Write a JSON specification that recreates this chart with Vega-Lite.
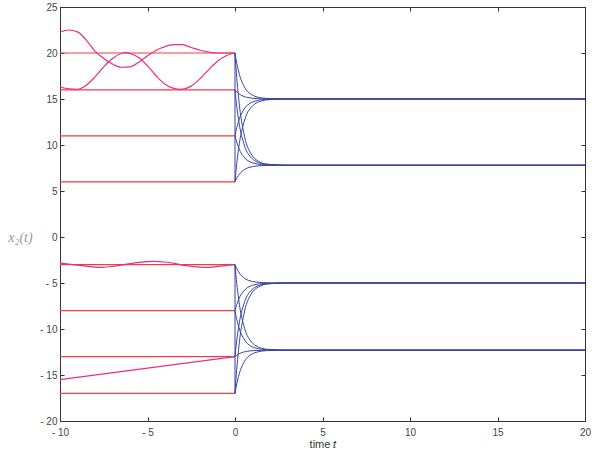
{
  "$schema": "https://vega.github.io/schema/vega-lite/v6.json",
  "width": 525,
  "height": 414,
  "autosize": {"type": "none"},
  "padding": {"left": 60, "top": 7, "right": 16, "bottom": 32},
  "background": "white",
  "config": {
    "view": {"stroke": "#333", "strokeWidth": 1},
    "axis": {
      "grid": false, "domainColor": "#333", "tickColor": "#333", "labelColor": "#444",
      "labelFont": "Liberation Sans", "labelFontSize": 10, "tickSize": -4,
      "labelOverlap": false, "labelFlush": false,
      "titleFont": "Liberation Sans", "titleFontWeight": "normal", "titleColor": "#333"
    }
  },
  "resolve": {"axis": {"x": "independent", "y": "independent"}},
  "layer": [
    {
      "data": {"values": [
        {"t0": -10, "t1": 0, "v": 20}, {"t0": -10, "t1": 0, "v": 16}, {"t0": -10, "t1": 0, "v": 11}, {"t0": -10, "t1": 0, "v": 6},
        {"t0": -10, "t1": 0, "v": -3}, {"t0": -10, "t1": 0, "v": -8}, {"t0": -10, "t1": 0, "v": -13}, {"t0": -10, "t1": 0, "v": -17}
      ]},
      "mark": {"type": "rule", "color": "#f03c46", "strokeWidth": 1.2},
      "encoding": {
        "x": {"field": "t0", "type": "quantitative", "scale": {"domain": [-10, 20], "nice": false},
          "axis": {"orient": "bottom", "values": [-10, -5, 0, 5, 10, 15, 20], "labelExpr": "datum.value < 0 ? '- ' + abs(datum.value) : datum.label", "labelPadding": 10, "title": "time 𝑡", "titleFontSize": 11, "titlePadding": 1}},
        "x2": {"field": "t1"},
        "y": {"field": "v", "type": "quantitative", "scale": {"domain": [-20, 25], "nice": false},
          "axis": {"orient": "left", "values": [-20, -15, -10, -5, 0, 5, 10, 15, 20, 25], "labelExpr": "datum.value < 0 ? '- ' + abs(datum.value) : datum.label", "labelPadding": 7,
            "title": "x₂(t)", "titleAngle": 0, "titleX": -40, "titleY": 230, "titleAlign": "center", "titleBaseline": "middle", "titleFont": "Liberation Serif", "titleFontStyle": "italic", "titleFontSize": 14, "titleColor": "#999"}}
      }
    },
    {
      "data": {"values": [
        {"s": "A", "t": -10, "y": 22.25}, {"s": "A", "t": -9.5, "y": 22.5}, {"s": "A", "t": -9, "y": 22.3}, {"s": "A", "t": -8.5, "y": 21.4}, {"s": "A", "t": -8, "y": 20.2},
        {"s": "A", "t": -7.5, "y": 19.4}, {"s": "A", "t": -7, "y": 18.8}, {"s": "A", "t": -6.5, "y": 18.45}, {"s": "A", "t": -6, "y": 18.5}, {"s": "A", "t": -5.5, "y": 19.0},
        {"s": "A", "t": -5, "y": 19.7}, {"s": "A", "t": -4.5, "y": 20.3}, {"s": "A", "t": -4, "y": 20.7}, {"s": "A", "t": -3.5, "y": 20.9}, {"s": "A", "t": -3, "y": 20.9},
        {"s": "A", "t": -2.5, "y": 20.6}, {"s": "A", "t": -2, "y": 20.3}, {"s": "A", "t": -1.5, "y": 20.1}, {"s": "A", "t": -1, "y": 20.0}, {"s": "A", "t": 0, "y": 20.0},
        {"s": "B", "t": -10, "y": 16.3}, {"s": "B", "t": -9.5, "y": 16.1}, {"s": "B", "t": -9, "y": 16.05}, {"s": "B", "t": -8.5, "y": 16.5}, {"s": "B", "t": -8, "y": 17.4},
        {"s": "B", "t": -7.5, "y": 18.5}, {"s": "B", "t": -7, "y": 19.4}, {"s": "B", "t": -6.5, "y": 19.95}, {"s": "B", "t": -6.25, "y": 20.05}, {"s": "B", "t": -6, "y": 19.95},
        {"s": "B", "t": -5.5, "y": 19.5}, {"s": "B", "t": -5, "y": 18.6}, {"s": "B", "t": -4.5, "y": 17.5}, {"s": "B", "t": -4, "y": 16.6}, {"s": "B", "t": -3.5, "y": 16.15},
        {"s": "B", "t": -3.1, "y": 16.05}, {"s": "B", "t": -2.5, "y": 16.4}, {"s": "B", "t": -2, "y": 17.2}, {"s": "B", "t": -1.5, "y": 18.2}, {"s": "B", "t": -1, "y": 19.1},
        {"s": "B", "t": -0.5, "y": 19.7}, {"s": "B", "t": 0, "y": 20.0},
        {"s": "C", "t": -10, "y": -2.85}, {"s": "C", "t": -9, "y": -3.05}, {"s": "C", "t": -8, "y": -3.28}, {"s": "C", "t": -7.7, "y": -3.3}, {"s": "C", "t": -7, "y": -3.2},
        {"s": "C", "t": -6, "y": -2.9}, {"s": "C", "t": -5, "y": -2.68}, {"s": "C", "t": -4.6, "y": -2.65}, {"s": "C", "t": -4, "y": -2.72}, {"s": "C", "t": -3, "y": -3.05},
        {"s": "C", "t": -2, "y": -3.28}, {"s": "C", "t": -1.6, "y": -3.3}, {"s": "C", "t": -1, "y": -3.2}, {"s": "C", "t": 0, "y": -3.0},
        {"s": "D", "t": -10, "y": -15.5}, {"s": "D", "t": 0, "y": -13.0}
      ]},
      "mark": {"type": "line", "color": "#e8307c", "strokeWidth": 1.2, "interpolate": "monotone"},
      "encoding": {
        "x": {"field": "t", "type": "quantitative", "axis": null},
        "y": {"field": "y", "type": "quantitative", "axis": null},
        "detail": {"field": "s"}
      }
    },
    {
      "data": {"values": [
        {"t": 0, "c1": 20, "c2": 16, "c3": 11, "c4": 6, "c5": 20, "c6": 16, "c7": 11, "c8": 6, "c9": -3, "c10": -8, "c11": -13, "c12": -17, "c13": -3, "c14": -8, "c15": -13, "c16": -17},
        {"t": 0.05, "c1": 19.4, "c2": 15.88, "c3": 11.48, "c4": 7.08, "c5": 18.54, "c6": 15.02, "c7": 10.62, "c8": 6.22, "c9": -3.24, "c10": -7.64, "c11": -12.04, "c12": -15.56, "c13": -4.12, "c14": -8.52, "c15": -12.92, "c16": -16.44},
        {"t": 0.1, "c1": 18.9, "c2": 15.78, "c3": 11.88, "c4": 7.98, "c5": 17.32, "c6": 14.2, "c7": 10.3, "c8": 6.4, "c9": -3.44, "c10": -7.34, "c11": -11.24, "c12": -14.36, "c13": -5.05, "c14": -8.95, "c15": -12.85, "c16": -15.97},
        {"t": 0.2, "c1": 18.05, "c2": 15.61, "c3": 12.56, "c4": 9.51, "c5": 15.24, "c6": 12.8, "c7": 9.75, "c8": 6.7, "c9": -3.78, "c10": -6.83, "c11": -9.88, "c12": -12.32, "c13": -6.63, "c14": -9.68, "c15": -12.73, "c16": -15.17},
        {"t": 0.3, "c1": 17.35, "c2": 15.47, "c3": 13.12, "c4": 10.77, "c5": 13.53, "c6": 11.65, "c7": 9.3, "c8": 6.95, "c9": -4.06, "c10": -6.41, "c11": -8.76, "c12": -10.64, "c13": -7.93, "c14": -10.28, "c15": -12.63, "c16": -14.51},
        {"t": 0.4, "c1": 16.85, "c2": 15.37, "c3": 13.52, "c4": 11.67, "c5": 12.31, "c6": 10.83, "c7": 8.98, "c8": 7.13, "c9": -4.26, "c10": -6.11, "c11": -7.96, "c12": -9.44, "c13": -8.86, "c14": -10.71, "c15": -12.56, "c16": -14.04},
        {"t": 0.5, "c1": 16.45, "c2": 15.29, "c3": 13.84, "c4": 12.39, "c5": 11.34, "c6": 10.18, "c7": 8.73, "c8": 7.28, "c9": -4.42, "c10": -5.87, "c11": -7.32, "c12": -8.48, "c13": -9.6, "c14": -11.05, "c15": -12.5, "c16": -13.66},
        {"t": 0.6, "c1": 16.1, "c2": 15.22, "c3": 14.12, "c4": 13.02, "c5": 10.48, "c6": 9.6, "c7": 8.5, "c8": 7.4, "c9": -4.56, "c10": -5.66, "c11": -6.76, "c12": -7.64, "c13": -10.25, "c14": -11.35, "c15": -12.45, "c16": -13.33},
        {"t": 0.7, "c1": 15.85, "c2": 15.17, "c3": 14.32, "c4": 13.47, "c5": 9.87, "c6": 9.19, "c7": 8.34, "c8": 7.49, "c9": -4.66, "c10": -5.51, "c11": -6.36, "c12": -7.04, "c13": -10.72, "c14": -11.57, "c15": -12.42, "c16": -13.1},
        {"t": 0.8, "c1": 15.68, "c2": 15.14, "c3": 14.46, "c4": 13.79, "c5": 9.45, "c6": 8.91, "c7": 8.23, "c8": 7.56, "c9": -4.73, "c10": -5.41, "c11": -6.08, "c12": -6.62, "c13": -11.04, "c14": -11.72, "c15": -12.39, "c16": -12.93},
        {"t": 1.0, "c1": 15.41, "c2": 15.08, "c3": 14.67, "c4": 14.26, "c5": 8.8, "c6": 8.47, "c7": 8.06, "c8": 7.65, "c9": -4.84, "c10": -5.25, "c11": -5.66, "c12": -5.98, "c13": -11.54, "c14": -11.95, "c15": -12.36, "c16": -12.69},
        {"t": 1.2, "c1": 15.25, "c2": 15.05, "c3": 14.8, "c4": 14.55, "c5": 8.41, "c6": 8.21, "c7": 7.96, "c8": 7.71, "c9": -4.9, "c10": -5.15, "c11": -5.4, "c12": -5.6, "c13": -11.83, "c14": -12.08, "c15": -12.34, "c16": -12.54},
        {"t": 1.5, "c1": 15.12, "c2": 15.02, "c3": 14.91, "c4": 14.79, "c5": 8.08, "c6": 7.99, "c7": 7.87, "c8": 7.76, "c9": -4.95, "c10": -5.07, "c11": -5.18, "c12": -5.28, "c13": -12.09, "c14": -12.2, "c15": -12.32, "c16": -12.41},
        {"t": 2, "c1": 15.04, "c2": 15.01, "c3": 14.97, "c4": 14.94, "c5": 7.89, "c6": 7.86, "c7": 7.82, "c8": 7.79, "c9": -4.99, "c10": -5.02, "c11": -5.06, "c12": -5.08, "c13": -12.23, "c14": -12.27, "c15": -12.3, "c16": -12.33},
        {"t": 3, "c1": 15, "c2": 15, "c3": 15, "c4": 15, "c5": 7.8, "c6": 7.8, "c7": 7.8, "c8": 7.8, "c9": -5, "c10": -5, "c11": -5, "c12": -5, "c13": -12.3, "c14": -12.3, "c15": -12.3, "c16": -12.3},
        {"t": 20, "c1": 15, "c2": 15, "c3": 15, "c4": 15, "c5": 7.8, "c6": 7.8, "c7": 7.8, "c8": 7.8, "c9": -5, "c10": -5, "c11": -5, "c12": -5, "c13": -12.3, "c14": -12.3, "c15": -12.3, "c16": -12.3}
      ]},
      "transform": [{"fold": ["c1", "c2", "c3", "c4", "c5", "c6", "c7", "c8", "c9", "c10", "c11", "c12", "c13", "c14", "c15", "c16"], "as": ["curve", "y"]}],
      "mark": {"type": "line", "color": "#3a43a0", "strokeWidth": 1, "interpolate": "monotone"},
      "encoding": {
        "x": {"field": "t", "type": "quantitative", "axis": null},
        "y": {"field": "y", "type": "quantitative", "axis": null},
        "detail": {"field": "curve"}
      }
    },
    {
      "data": {"values": [{"t": 0, "y1": 20, "y2": 6}, {"t": 0, "y1": -3, "y2": -17}]},
      "mark": {"type": "rule", "color": "#3a43a0", "strokeWidth": 1},
      "encoding": {
        "x": {"field": "t", "type": "quantitative", "axis": {"orient": "top", "values": [-10, -5, 0, 5, 10, 15, 20], "labels": false, "title": null}},
        "y": {"field": "y1", "type": "quantitative", "axis": {"orient": "right", "values": [-20, -15, -10, -5, 0, 5, 10, 15, 20, 25], "labels": false, "title": null}},
        "y2": {"field": "y2"}
      }
    }
  ]
}
